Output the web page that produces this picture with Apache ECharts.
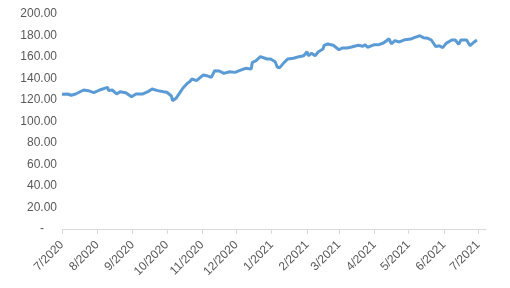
<!DOCTYPE html>
<html>
<head>
<meta charset="utf-8">
<script src="https://cdn.jsdelivr.net/npm/echarts@6/dist/echarts.min.js"></script>
<style>html,body{margin:0;padding:0;background:#fff}#c{width:510px;height:288px}</style>
</head>
<body>
<div id="c"></div>
<script>
var axisStart = '2020-07-01';
var axisEnd = '2021-07-08';
var yTicks = [0, 20, 40, 60, 80, 100, 120, 140, 160, 180, 200];

var dates = [
'2020-07-01','2020-07-06','2020-07-09','2020-07-13','2020-07-20','2020-07-24','2020-07-29',
'2020-08-03','2020-08-10','2020-08-11','2020-08-14','2020-08-18','2020-08-21','2020-08-26','2020-08-31',
'2020-09-04','2020-09-10','2020-09-14','2020-09-18','2020-09-23','2020-09-28',
'2020-10-01','2020-10-05','2020-10-06','2020-10-09','2020-10-12','2020-10-15','2020-10-19','2020-10-21','2020-10-23','2020-10-27',
'2020-11-02','2020-11-05','2020-11-09','2020-11-12','2020-11-16','2020-11-20','2020-11-25','2020-11-30',
'2020-12-03','2020-12-09','2020-12-14','2020-12-15','2020-12-18','2020-12-22','2020-12-28','2020-12-31',
'2021-01-04','2021-01-06','2021-01-08','2021-01-12','2021-01-15','2021-01-20','2021-01-25','2021-01-29',
'2021-02-01','2021-02-02','2021-02-05','2021-02-08','2021-02-11','2021-02-15','2021-02-16','2021-02-19','2021-02-24',
'2021-03-01','2021-03-04','2021-03-08','2021-03-12','2021-03-18','2021-03-22','2021-03-24','2021-03-26',
'2021-04-01','2021-04-05','2021-04-09','2021-04-14','2021-04-16','2021-04-19','2021-04-23','2021-04-28',
'2021-05-03','2021-05-06','2021-05-11','2021-05-14','2021-05-18','2021-05-21','2021-05-25','2021-05-28','2021-05-31',
'2021-06-03','2021-06-08','2021-06-11','2021-06-14','2021-06-16','2021-06-21','2021-06-24','2021-06-28','2021-06-30'
];
var values = [
125.3,125.6,124.4,125.6,129.3,128.7,126.8,
129.3,131.8,128.7,129.3,125.6,127.7,126.8,123.0,
125.6,125.6,127.5,130.2,128.7,127.7,
127.2,123.7,119.3,121.6,126.2,130.9,135.5,137.0,139.5,138.0,
143.3,142.6,141.1,147.3,147.0,144.8,146.3,145.7,
147.0,149.5,148.8,155.0,156.3,160.3,158.1,158.1,
155.6,150.4,150.1,155.0,158.1,158.8,160.3,161.2,
164.9,161.2,163.4,161.2,164.9,167.4,170.9,172.1,170.9,
166.8,168.4,168.4,169.3,170.9,170.0,171.5,169.0,
171.5,171.5,173.0,177.0,172.1,175.2,174.0,176.1,
176.7,178.0,179.8,178.0,177.4,175.8,169.6,170.5,168.7,
172.7,175.8,175.8,171.8,175.8,175.8,170.5,174.2,175.8
];

// build daily category axis
var cats = [];
var t = Date.parse(axisStart + 'T00:00:00Z');
var tEnd = Date.parse(axisEnd + 'T00:00:00Z');
while (t <= tEnd) { cats.push(new Date(t).toISOString().slice(0, 10)); t += 86400000; }
var isMonthStart = function (i, v) { return v.slice(8, 10) === '01'; };

var seriesData = dates.map(function (d, i) { return [d, values[i]]; });

var FONT = 'Liberation Sans, Arial, sans-serif';
var chart = echarts.init(document.getElementById('c'), null, {renderer: 'canvas'});
chart.setOption({
  animation: false,
  backgroundColor: '#ffffff',
  grid: {left: 62, right: 24, top: 14, bottom: 59, containLabel: false},
  xAxis: {
    type: 'category',
    data: cats,
    boundaryGap: false,
    axisLine: {show: true, lineStyle: {color: '#d9d9d9', width: 1}},
    axisTick: {show: true, interval: isMonthStart, length: 5, lineStyle: {color: '#d9d9d9'}},
    axisLabel: {
      interval: isMonthStart,
      rotate: 45,
      margin: 14,
      color: '#595959',
      fontSize: 12,
      fontFamily: FONT,
      formatter: function (v) { return parseInt(v.slice(5, 7), 10) + '/' + v.slice(0, 4); }
    },
    splitLine: {show: false}
  },
  yAxis: {
    type: 'value',
    min: yTicks[0],
    max: yTicks[yTicks.length - 1],
    interval: yTicks[1] - yTicks[0],
    axisLine: {show: false},
    axisTick: {show: false},
    splitLine: {show: false},
    axisLabel: {
      margin: 5,
      color: '#595959',
      fontSize: 12,
      fontFamily: FONT,
      formatter: function (v) { return v === 0 ? '{z|-}' : v.toFixed(2); },
      rich: {z: {padding: [0, 13, 0, 0], color: '#595959', fontSize: 12, fontFamily: FONT}}
    }
  },
  series: [{
    type: 'line',
    data: seriesData,
    showSymbol: false,
    symbol: 'none',
    lineStyle: {color: '#5B9BD5', width: 3},
    itemStyle: {color: '#5B9BD5'}
  }]
});
</script>
</body>
</html>
